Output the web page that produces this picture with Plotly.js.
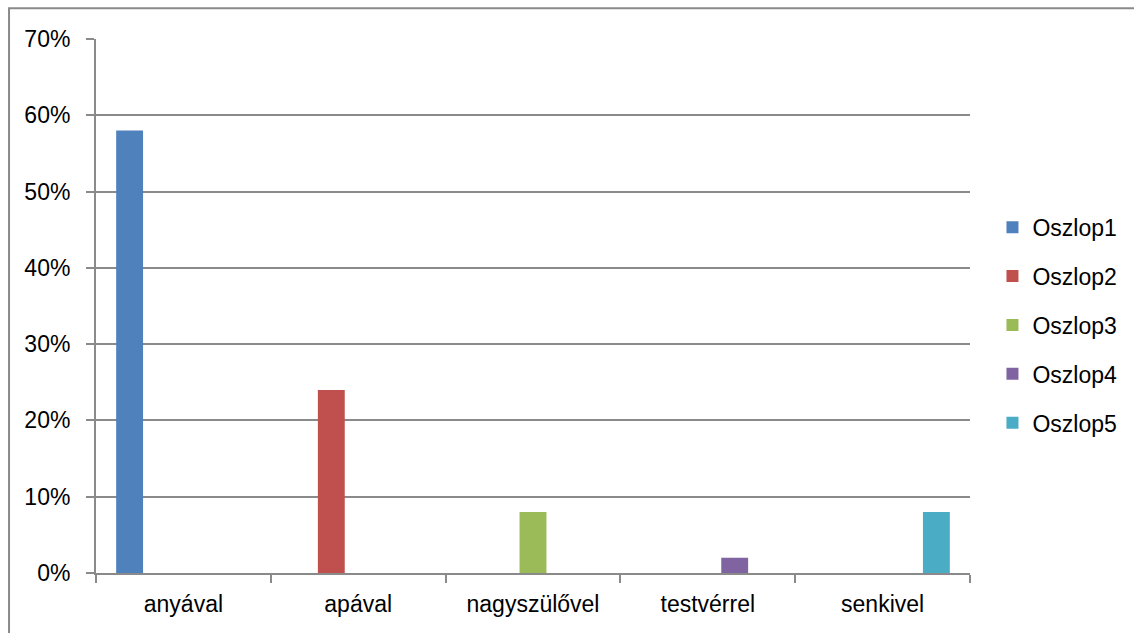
<!DOCTYPE html>
<html>
<head>
<meta charset="utf-8">
<script src="https://cdn.plot.ly/plotly-3.0.1.min.js"></script>
<style>
  html, body { margin: 0; padding: 0; background: #ffffff; }
  #chart { width: 1134px; height: 633px; }
</style>
</head>
<body>
<div id="chart"></div>
<script>
// ---- data ----
const categories = ["anyával", "apával", "nagyszülővel", "testvérrel", "senkivel"];
const seriesNames = ["Oszlop1", "Oszlop2", "Oszlop3", "Oszlop4", "Oszlop5"];
const seriesValues = [0.58, 0.24, 0.08, 0.02, 0.08]; // each series has a value only in its own category
const seriesColors = ["#4F81BD", "#C0504D", "#9BBB59", "#8064A2", "#4BACC6"];
const yTickValues = [0, 0.1, 0.2, 0.3, 0.4, 0.5, 0.6, 0.7];

const FONT = "Liberation Sans, Arial, sans-serif";
const GRID = "#8a8a8a";

const traces = seriesNames.map((name, i) => ({
  type: "bar",
  name: name,
  legendgroup: name,
  x: categories,
  y: categories.map((c, j) => (j === i ? seriesValues[i] : null)),
  marker: { color: seriesColors[i], line: { width: 0 } },
  hoverinfo: "x+y+name"
}));

const layout = {
  width: 1134,
  height: 633,
  paper_bgcolor: "#ffffff",
  plot_bgcolor: "#ffffff",
  margin: { l: 96, r: 164, t: 39, b: 60 },
  font: { family: FONT, size: 23, color: "#000000" },
  barmode: "group",
  bargap: 0.2308,
  bargroupgap: 0,
  showlegend: true,
  legend: {
    x: 1.0257, xanchor: "left",
    y: 0.464, yanchor: "middle",
    traceorder: "grouped",
    tracegroupgap: 16,
    font: { family: FONT, size: 23, color: "#000000" },
    bgcolor: "rgba(0,0,0,0)",
    borderwidth: 0
  },
  xaxis: {
    type: "category",
    showgrid: false,
    showline: true,
    linecolor: GRID,
    linewidth: 2,
    ticks: "outside",
    tickson: "boundaries",
    ticklen: 8,
    tickwidth: 2,
    tickcolor: GRID,
    ticklabelstandoff: 9,
    tickfont: { family: FONT, size: 23, color: "#000000" },
    zeroline: false,
    fixedrange: true
  },
  yaxis: {
    range: [0, 0.7],
    tickvals: yTickValues,
    tickformat: ".0%",
    showgrid: true,
    gridcolor: GRID,
    gridwidth: 2,
    showline: true,
    linecolor: GRID,
    linewidth: 2,
    ticks: "outside",
    ticklen: 8,
    tickwidth: 2,
    tickcolor: GRID,
    ticklabelstandoff: 11,
    tickfont: { family: FONT, size: 23, color: "#000000" },
    zeroline: false,
    fixedrange: true
  },
  shapes: [
    {
      type: "rect", xref: "paper", yref: "paper",
      x0: -0.0995, x1: 1.4, y0: -0.4, y1: 1.0575,
      line: { color: "#8a8a8a", width: 2 },
      fillcolor: "rgba(0,0,0,0)",
      layer: "below"
    }
  ]
};

Plotly.newPlot("chart", traces, layout, { displayModeBar: false, staticPlot: true });
</script>
</body>
</html>
